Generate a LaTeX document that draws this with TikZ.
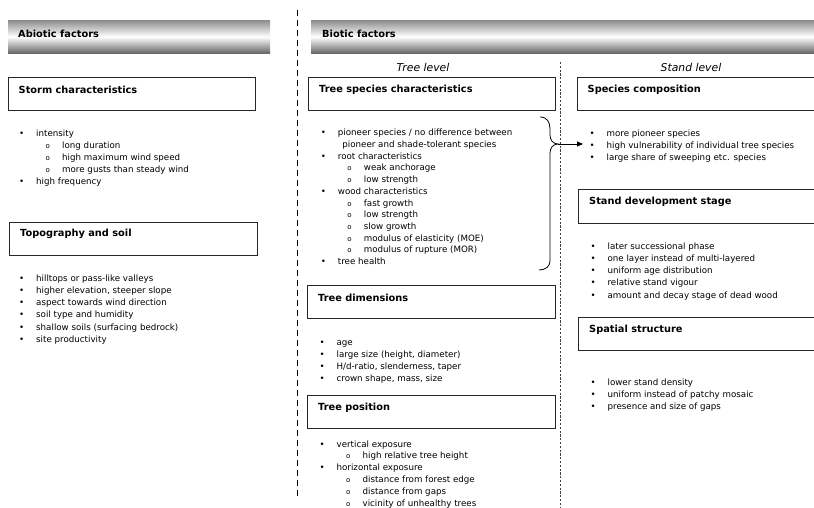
\documentclass[tikz,border=0pt]{standalone}
\usepackage{fontspec}
\setmainfont{DejaVu Sans}
\usetikzlibrary{positioning,arrows.meta}
\tikzstyle{diagram} = [x = 1pt, y = -1pt]
\tikzstyle{headerBar} = [inner sep=0, minimum height=33pt, anchor=north west, top color=black!45, bottom color=black!60, middle color=white]
\tikzstyle{boxStyle} = [draw=black!85, line width=.9pt, inner sep=0, minimum height=33pt, anchor=north west]
\tikzstyle{titleText} = [font=\fontsize{9.8}{12}\selectfont\bfseries, inner sep=0, anchor=west]
\tikzstyle{levelText} = [font=\fontsize{10.8}{13}\selectfont\itshape, inner sep=0]
\tikzstyle{listText} = [font=\fontsize{8.7}{12}\selectfont, align=left, inner sep=0, anchor=north west]
\tikzstyle{splitLine} = [line width=1.2pt, dash pattern=on 6pt off 4pt]
\tikzstyle{levelLine} = [line width=.6pt, black!75, dash pattern=on 2.2pt off 1.6pt]
\tikzstyle{braceLine} = [line width=.8pt]
\tikzstyle{arrowLine} = [line width=.8pt, -{Triangle[length=6pt,width=5pt]}]
\newcommand{\lineSkip}[1]{\fontsize{8.7}{#1}\selectfont}
\newcommand{\bulletItem}[1]{\strut\makebox[17pt][l]{•}#1}
\newcommand{\subItem}[1]{\strut\hspace*{26.5pt}\makebox[16.5pt][l]{{\fontsize{7}{8}\selectfont o}}#1}
\newcommand{\moreItem}[1]{\strut\hspace*{21.5pt}#1}

\begin{document}
\begin{tikzpicture}[diagram]
  \useasboundingbox (0,0) rectangle (814,508);
  \clip (0,0) rectangle (814,508);
  \fill[white] (0,0) rectangle (814,508);

  % header bars
  \node[headerBar, minimum width=262pt] (abioticBar) at (8,20) {};
  \node[headerBar, minimum width=510pt] (bioticBar) at (311,20) {};
  \node[titleText] (abioticTitle) at (18,33.5) {Abiotic factors};
  \node[titleText] (bioticTitle) at (322,33.5) {Biotic factors};

  % separators
  \draw[splitLine] (297.5,10) -- (297.5,498);
  \draw[levelLine] (560,62) -- (560,510);
  \node[levelText] (treeLevel) at (423,67) {Tree level};
  \node[levelText] (standLevel) at (691,67) {Stand level};

  % abiotic
  \node[boxStyle, minimum width=247pt] (stormBox) at (8,77) {};
  \node[titleText] (stormTitle) at ([xshift=10.5pt,yshift=-12.5pt]stormBox.north west) {Storm characteristics};
  \node[listText] (stormList) at (19,127.5) {%
    \bulletItem{intensity}\\
    \subItem{long duration}\\
    \subItem{high maximum wind speed}\\
    \subItem{more gusts than steady wind}\\
    \bulletItem{high frequency}};

  \node[boxStyle, minimum width=248pt] (topoBox) at (9,222) {};
  \node[titleText] (topoTitle) at ([xshift=11pt,yshift=-12pt]topoBox.north west) {Topography and soil};
  \node[listText, font=\lineSkip{12.2}] (topoList) at (19,272.5) {%
    \bulletItem{hilltops or pass-like valleys}\\
    \bulletItem{higher elevation, steeper slope}\\
    \bulletItem{aspect towards wind direction}\\
    \bulletItem{soil type and humidity}\\
    \bulletItem{shallow soils (surfacing bedrock)}\\
    \bulletItem{site productivity}};

  % tree level
  \node[boxStyle, minimum width=247pt] (speciesBox) at (308,77) {};
  \node[titleText] (speciesTitle) at ([xshift=11pt,yshift=-12.5pt]speciesBox.north west) {Tree species characteristics};
  \node[listText, font=\lineSkip{11.7}] (speciesList) at (320.7,127.5) {%
    \bulletItem{pioneer species / no difference between}\\
    \moreItem{pioneer and shade-tolerant species}\\
    \bulletItem{root characteristics}\\
    \subItem{weak anchorage}\\
    \subItem{low strength}\\
    \bulletItem{wood characteristics}\\
    \subItem{fast growth}\\
    \subItem{low strength}\\
    \subItem{slow growth}\\
    \subItem{modulus of elasticity (MOE)}\\
    \subItem{modulus of rupture (MOR)}\\
    \bulletItem{tree health}};

  \node[boxStyle, minimum width=248pt] (dimBox) at (307,285) {};
  \node[titleText] (dimTitle) at ([xshift=11pt,yshift=-13pt]dimBox.north west) {Tree dimensions};
  \node[listText] (dimList) at (319.4,336.5) {%
    \bulletItem{age}\\
    \bulletItem{large size (height, diameter)}\\
    \bulletItem{H/d-ratio, slenderness, taper}\\
    \bulletItem{crown shape, mass, size}};

  \node[boxStyle, minimum width=248pt] (positionBox) at (307,395) {};
  \node[titleText] (positionTitle) at ([xshift=11pt,yshift=-13pt]positionBox.north west) {Tree position};
  \node[listText, font=\lineSkip{11.9}] (positionList) at (319.4,438.5) {%
    \bulletItem{vertical exposure}\\
    \subItem{high relative tree height}\\
    \bulletItem{horizontal exposure}\\
    \subItem{distance from forest edge}\\
    \subItem{distance from gaps}\\
    \subItem{vicinity of unhealthy trees}};

  % stand level
  \node[boxStyle, minimum width=245pt] (compBox) at (577,77) {};
  \node[titleText] (compTitle) at ([xshift=10.5pt,yshift=-12.5pt]compBox.north west) {Species composition};
  \node[listText] (compList) at (589.4,127.5) {%
    \bulletItem{more pioneer species}\\
    \bulletItem{high vulnerability of individual tree species}\\
    \bulletItem{large share of sweeping etc. species}};

  \node[boxStyle, minimum width=244pt, minimum height=34pt] (devBox) at (578,189) {};
  \node[titleText] (devTitle) at ([xshift=11pt,yshift=-13pt]devBox.north west) {Stand development stage};
  \node[listText, font=\lineSkip{12.2}] (devList) at (590.4,240.5) {%
    \bulletItem{later successional phase}\\
    \bulletItem{one layer instead of multi-layered}\\
    \bulletItem{uniform age distribution}\\
    \bulletItem{relative stand vigour}\\
    \bulletItem{amount and decay stage of dead wood}};

  \node[boxStyle, minimum width=244pt] (spatialBox) at (578,317) {};
  \node[titleText] (spatialTitle) at ([xshift=11pt,yshift=-12.5pt]spatialBox.north west) {Spatial structure};
  \node[listText, font=\lineSkip{11.7}] (spatialList) at (590.4,377.5) {%
    \bulletItem{lower stand density}\\
    \bulletItem{uniform instead of patchy mosaic}\\
    \bulletItem{presence and size of gaps}};

  % brace and arrow
  \coordinate (braceTop) at (540,117);
  \coordinate (braceTip) at (558,144);
  \coordinate (braceBottom) at (539,270);
  \coordinate (arrowEnd) at (583,144);
  \draw[braceLine] (braceTop) .. controls (547,117) and (550,122) .. (550,129)
    -- (550,135) .. controls (550,140) and (553,144) .. (braceTip)
    .. controls (553,144) and (550,148) .. (550,153)
    -- (550,261) .. controls (550,266) and (546,270) .. (braceBottom);
  \draw[arrowLine] (braceTip) -- (arrowEnd);
\end{tikzpicture}
\end{document}
